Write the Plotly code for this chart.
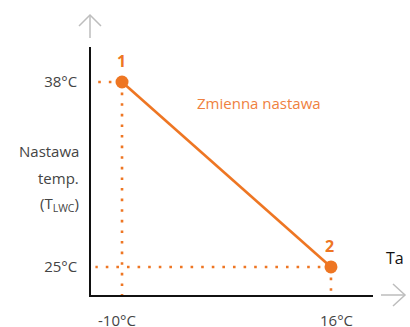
import plotly.graph_objects as go

# Data
point_labels = ["1", "2"]
ta_values = [-10, 16]          # outdoor temperature (°C)
lwc_values = [38, 25]          # set-point (°C)
x_tick_text = ["-10°C", "16°C"]
y_tick_text = ["38°C", "25°C"]
series_name = "Zmienna nastawa"

ORANGE = "#EE7623"
GRAY_ARROW = "#BDBDBD"
FONT = "Open Sans"

W, H = 410, 327
L, R, T, B = 91, 37, 47, 32
X_RANGE = [-13.86, 21.23]
Y_RANGE = [23.03, 40.46]

fig = go.Figure()

# dotted guide lines from each point to the axes
shapes = []
for xv, yv in zip(ta_values, lwc_values):
    shapes.append(dict(type="line", xref="x", yref="y", x0=xv, y0=yv, x1=X_RANGE[0] + 0.55, y1=yv,
                       line=dict(color=ORANGE, width=2.6, dash="2.6px,8px")))
    shapes.append(dict(type="line", xref="x", yref="y", x0=xv, y0=yv, x1=xv, y1=Y_RANGE[0],
                       line=dict(color=ORANGE, width=2.6, dash="2.6px,8px")))

# main line with end markers
fig.add_trace(go.Scatter(
    x=ta_values, y=lwc_values, mode="lines+markers",
    line=dict(color=ORANGE, width=2.6),
    marker=dict(color=ORANGE, size=13),
    cliponaxis=False, showlegend=False, hoverinfo="skip",
))

# arrows (open chevrons) in paper coordinates
def px(xp):
    return (xp - L) / (W - L - R)
def py(yp):
    return (H - B - yp) / (H - T - B)

arrow_line = dict(color=GRAY_ARROW, width=1.5)
shapes.append(dict(type="path", xref="paper", yref="paper",
                   path=f"M{px(90)},{py(38)} L{px(90)},{py(15)}",
                   line=arrow_line))
shapes.append(dict(type="path", xref="paper", yref="paper",
                   path=f"M{px(79)},{py(26)} L{px(90)},{py(15)} L{px(101)},{py(26)}",
                   line=arrow_line))
shapes.append(dict(type="path", xref="paper", yref="paper",
                   path=f"M{px(381)},{py(295)} L{px(405)},{py(295)}",
                   line=arrow_line))
shapes.append(dict(type="path", xref="paper", yref="paper",
                   path=f"M{px(393)},{py(284)} L{px(405)},{py(295)} L{px(393)},{py(306)}",
                   line=arrow_line))

annotations = []
# point numbers
for lab, xv, yv in zip(point_labels, ta_values, lwc_values):
    annotations.append(dict(x=xv, y=yv, xref="x", yref="y", text=f"<b>{lab}</b>",
                            showarrow=False, yshift=21, xshift=-1,
                            xanchor="center", yanchor="middle",
                            font=dict(family=FONT, size=16, color=ORANGE)))
# x tick labels
for lab, xv, sh in zip(x_tick_text, ta_values, [-5, 6]):
    annotations.append(dict(x=xv, y=py(320), xref="x", yref="paper", text=lab,
                            showarrow=False, xshift=sh, xanchor="center", yanchor="middle",
                            font=dict(family=FONT, size=15, color="#444444")))
# series label
annotations.append(dict(x=px(259), y=py(103), xref="paper", yref="paper", text=series_name,
                        showarrow=False, xanchor="center", yanchor="middle",
                        font=dict(family=FONT, size=15, color="#EF8140")))
# y-axis title lines
for txt, yp in zip(["Nastawa", "temp.", "(T<sub>LWC</sub>)"], [151, 178, 204]):
    annotations.append(dict(x=px(81), y=py(yp), xref="paper", yref="paper", text=txt,
                            showarrow=False, xanchor="right", yanchor="middle",
                            font=dict(family=FONT, size=15, color="#444444")))
# x-axis title
annotations.append(dict(x=px(395), y=py(258), xref="paper", yref="paper", text="Ta",
                        showarrow=False, xanchor="center", yanchor="middle",
                        font=dict(family=FONT, size=16, color="#111111")))

fig.update_layout(
    width=W, height=H,
    margin=dict(l=L, r=R, t=T, b=B),
    paper_bgcolor="white", plot_bgcolor="white",
    shapes=shapes, annotations=annotations,
    xaxis=dict(range=X_RANGE, showgrid=False, zeroline=False, showline=True,
               linecolor="#111111", linewidth=1.5, showticklabels=False, ticks="",
               fixedrange=True),
    yaxis=dict(range=Y_RANGE, showgrid=False, zeroline=False, showline=True,
               linecolor="#111111", linewidth=1.5, tickvals=lwc_values, ticktext=y_tick_text,
               ticks="", ticklabelstandoff=9,
               tickfont=dict(family=FONT, size=15, color="#444444"), fixedrange=True),
)

fig.write_html("out.html", config={"displayModeBar": False},
               post_script="document.body.style.margin='0';document.body.style.overflow='hidden';")
